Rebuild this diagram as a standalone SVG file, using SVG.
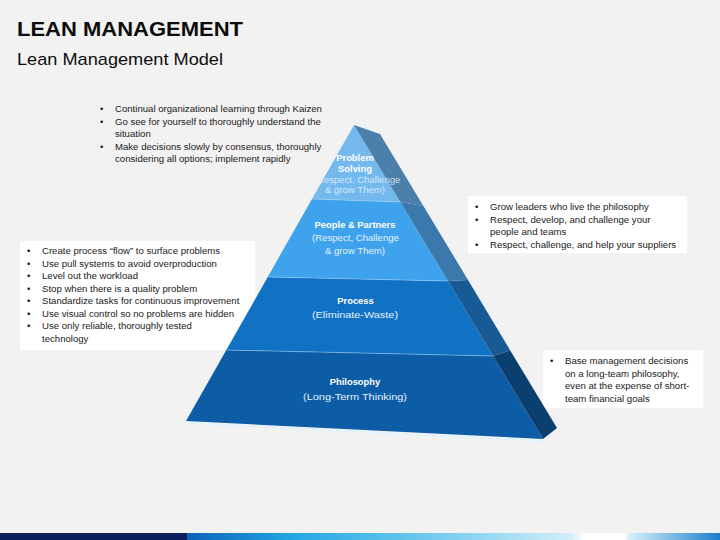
<svg xmlns="http://www.w3.org/2000/svg" width="720" height="540" viewBox="0 0 720 540">
<defs>
<style>
.t{font-family:"Liberation Sans",Arial,sans-serif;fill:#1a1a1a;font-size:9.6px}
.b{font-family:"Liberation Sans",Arial,sans-serif;fill:#1a1a1a;font-size:9.6px}
.pw{font-family:"Liberation Sans",Arial,sans-serif;fill:#ffffff;font-weight:bold;font-size:9.4px;text-anchor:middle}
.pl{font-family:"Liberation Sans",Arial,sans-serif;fill:#e3f1ff;font-size:9.6px;text-anchor:middle}
.box{fill:#ffffff}
.edge{fill:none;stroke:#a9d8fb;stroke-width:0.8;stroke-opacity:0.6}
</style>
<linearGradient id="bar" x1="0" y1="0" x2="1" y2="0" gradientUnits="objectBoundingBox">
<stop offset="0" stop-color="#0b62b8"/>
<stop offset="0.2" stop-color="#22a8e4"/>
<stop offset="0.5" stop-color="#7fd0f0"/>
<stop offset="0.72" stop-color="#d2eef9"/>
<stop offset="0.745" stop-color="#ffffff"/>
<stop offset="0.82" stop-color="#ffffff"/>
<stop offset="0.83" stop-color="#d6eff9"/>
<stop offset="1" stop-color="#1a7fcc"/>
</linearGradient>
</defs>
<rect x="0" y="0" width="720" height="540" fill="#f2f2f2"/>

<g id="title">
<text x="17" y="36" font-family="Liberation Sans, Arial, sans-serif" font-weight="bold" font-size="21" fill="#0d0d0d" textLength="226" lengthAdjust="spacingAndGlyphs">LEAN MANAGEMENT</text>
<text x="17" y="65" font-family="Liberation Sans, Arial, sans-serif" font-size="17" fill="#0d0d0d" textLength="206" lengthAdjust="spacingAndGlyphs">Lean Management Model</text>
</g>

<g id="note-top">
<text class="b" x="100" y="112">•</text>
<text class="t" x="115" y="112">Continual organizational learning through Kaizen</text>
<text class="b" x="100" y="124.5">•</text>
<text class="t" x="115" y="124.5">Go see for yourself to thoroughly understand the</text>
<text class="t" x="115" y="137">situation</text>
<text class="b" x="100" y="149.5">•</text>
<text class="t" x="115" y="149.5">Make decisions slowly by consensus, thoroughly</text>
<text class="t" x="115" y="162">considering all options; implement rapidly</text>
</g>

<g id="note-left">
<rect class="box" x="20" y="241" width="235" height="109"/>
<text class="b" x="27" y="254">•</text>
<text class="t" x="42" y="254">Create process “flow” to surface problems</text>
<text class="b" x="27" y="266.5">•</text>
<text class="t" x="42" y="266.5">Use pull systems to avoid overproduction</text>
<text class="b" x="27" y="279">•</text>
<text class="t" x="42" y="279">Level out the workload</text>
<text class="b" x="27" y="291.5">•</text>
<text class="t" x="42" y="291.5">Stop when there is a quality problem</text>
<text class="b" x="27" y="304">•</text>
<text class="t" x="42" y="304">Standardize tasks for continuous improvement</text>
<text class="b" x="27" y="316.5">•</text>
<text class="t" x="42" y="316.5">Use visual control so no problems are hidden</text>
<text class="b" x="27" y="329">•</text>
<text class="t" x="42" y="329">Use only reliable, thoroughly tested</text>
<text class="t" x="42" y="341.5">technology</text>
</g>

<g id="note-right-top">
<rect class="box" x="468" y="196" width="219" height="57"/>
<text class="b" x="475" y="210">•</text>
<text class="t" x="490" y="210">Grow leaders who live the philosophy</text>
<text class="b" x="475" y="222.5">•</text>
<text class="t" x="490" y="222.5">Respect, develop, and challenge your</text>
<text class="t" x="490" y="235">people and teams</text>
<text class="b" x="475" y="247.5">•</text>
<text class="t" x="490" y="247.5">Respect, challenge, and help your suppliers</text>
</g>

<g id="note-right-bottom">
<rect class="box" x="543" y="350" width="160" height="58"/>
<text class="b" x="550" y="364">•</text>
<text class="t" x="565" y="364">Base management decisions</text>
<text class="t" x="565" y="376.5">on a long-team philosophy,</text>
<text class="t" x="565" y="389">even at the expense of short-</text>
<text class="t" x="565" y="401.5">team financial goals</text>
</g>

<g id="pyramid">
<line x1="187" y1="423" x2="543" y2="441" stroke="#dff2ff" stroke-width="1.5"/>
<g id="level-philosophy">
<polygon points="226.3,350 493,356 543,439 186,421" fill="#0c5ca6"/>
<polygon points="493,356 510.2,350.4 557,428 543,439" fill="#0b3f70"/>
<text class="pw" x="355" y="385" font-size="10">Philosophy</text>
<text class="pl" x="355" y="399.5" textLength="104" lengthAdjust="spacingAndGlyphs">(Long-Term Thinking)</text>
</g>
<g id="level-process">
<polygon points="267.7,277 447.9,281 493,356 226.3,350" fill="#1172c4"/>
<polygon points="447.9,281 468,280 510.2,350.4 493,356" fill="#185a96"/>
<text class="pw" x="355.5" y="304">Process</text>
<text class="pl" x="355" y="318" textLength="86" lengthAdjust="spacingAndGlyphs">(Eliminate-Waste)</text>
</g>
<g id="level-people">
<polygon points="312,199 400.3,202 447.9,281 267.7,277" fill="#3fa2ec"/>
<polygon points="400.3,202 423.4,206 468,280 447.9,281" fill="#3b78ab"/>
<text class="pw" x="355" y="227.5">People &amp; Partners</text>
<text class="pl" x="355.5" y="240.5">(Respect, Challenge</text>
<text class="pl" x="355" y="253.5">&amp; grow Them)</text>
</g>
<g id="level-problem">
<polygon points="354,125 312,199 400.3,202" fill="#74b9ee"/>
<polygon points="354,125 380,134 423.4,206 400.3,202" fill="#4d7fab"/>
<text class="pw" x="355" y="161" font-size="8.4">Problem</text>
<text class="pw" x="355" y="172" font-size="8.4">Solving</text>
<text class="pl" x="357" y="183" font-size="6" fill-opacity="0.85">(Respect, Challenge</text>
<text class="pl" x="355" y="192.5" font-size="6" fill-opacity="0.85">&amp; grow Them)</text>
</g>
<polyline class="edge" points="312,199 400.3,202"/>
<polyline class="edge" points="267.7,277 447.9,281"/>
<polyline class="edge" points="226.3,350 493,356"/>
</g>

<g id="bottom-bar">
<rect x="0" y="533" width="187" height="7" fill="#0b1f5c"/>
<rect x="187" y="533" width="533" height="7" fill="url(#bar)"/>
</g>
</svg>
